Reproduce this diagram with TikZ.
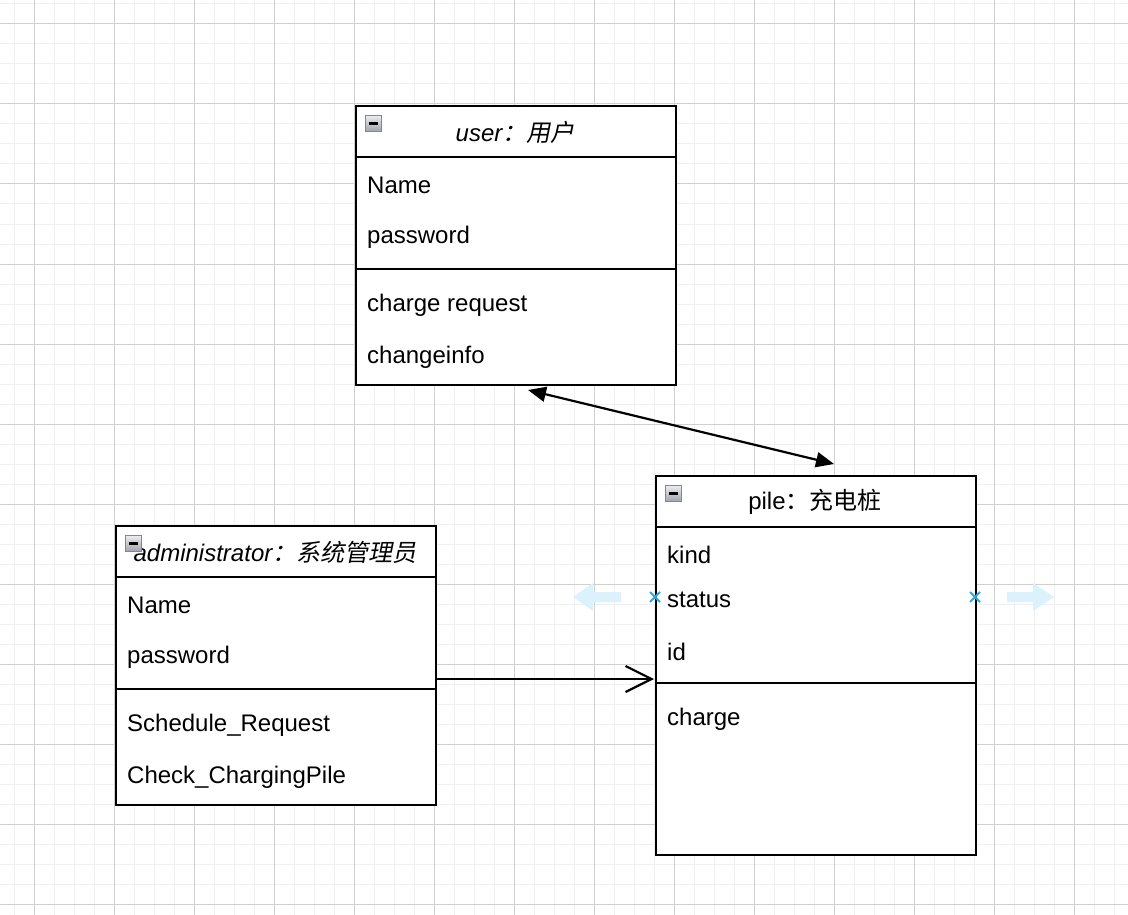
\documentclass[tikz,border=0pt]{standalone}
\usepackage{fontspec}
\setmainfont{Liberation Sans}
\newfontfamily\cjk{Noto Sans CJK SC}
\newfontfamily\cjkit[FakeSlant=0.2]{Noto Sans CJK SC}
\usetikzlibrary{arrows.meta,calc}
\definecolor{minorgrid}{RGB}{240,240,240}
\definecolor{majorgrid}{RGB}{208,208,208}
\definecolor{markblue}{RGB}{41,171,226}
\definecolor{hintblue}{RGB}{219,241,252}
\begin{document}
\begin{tikzpicture}[x=1pt,y=-1pt,
  every node/.style={font=\fontsize{24}{29}\selectfont},
  umlbox/.style={draw, line width=2pt, fill=white, anchor=north west, minimum width=320pt, inner sep=0pt},
  sepline/.style={line width=2pt},
  rowtext/.style={anchor=west, inner sep=0pt},
  headtext/.style={anchor=center, inner sep=0pt},
  icon/.style={draw={rgb,255:red,130;green,135;blue,145}, line width=1pt, minimum size=16pt, inner sep=0pt,
    top color={rgb,255:red,235;green,236;blue,238}, bottom color={rgb,255:red,160;green,163;blue,170},
    path picture={\draw[line width=2.2pt,black] ($(path picture bounding box.west)+(3.5,0)$) -- ($(path picture bounding box.east)+(-3.5,0)$);}},
  assoc/.style={line width=2.2pt},
  xmark/.style={draw=markblue, line width=2pt}
]
\useasboundingbox (0,0) rectangle (1128,915);
\fill[white] (0,0) rectangle (1128,915);
% grid
\foreach \x in {14,34,...,1124} \draw[minorgrid, line width=1pt] (\x,0) -- (\x,915);
\foreach \y in {4,24,...,914} \draw[minorgrid, line width=1pt] (0,\y) -- (1128,\y);
\foreach \x in {34,114,...,1114} \draw[majorgrid, line width=1pt] (\x,0) -- (\x,915);
\foreach \y in {24,104,...,904} \draw[majorgrid, line width=1pt] (0,\y) -- (1128,\y);

% user class
\node[umlbox, minimum height=279pt] (user) at (355,105) {};
\draw[sepline] ($(user.north west)+(0,52)$) -- ($(user.north east)+(0,52)$);
\draw[sepline] ($(user.north west)+(0,164)$) -- ($(user.north east)+(0,164)$);
\node[icon] (usericon) at (373,123.5) {};
\node[headtext] (usertitle) at (515,132) {\itshape user\cjkit ：用户};
\node[rowtext] (u1) at (367,185) {Name};
\node[rowtext] (u2) at (367,237.5) {password};
\node[rowtext] (u3) at (367,305.5) {charge request};
\node[rowtext] (u4) at (367,357.5) {changeinfo};

% administrator class
\node[umlbox, minimum height=279pt] (admin) at (115,525) {};
\draw[sepline] ($(admin.north west)+(0,52)$) -- ($(admin.north east)+(0,52)$);
\draw[sepline] ($(admin.north west)+(0,164)$) -- ($(admin.north east)+(0,164)$);
\node[headtext] (admintitle) at (275,552) {\itshape administrator\cjkit ：系统管理员};
\node[icon] (adminicon) at (133,543.5) {};
\node[rowtext] (a1) at (127,605) {Name};
\node[rowtext] (a2) at (127,657.5) {password};
\node[rowtext] (a3) at (127,725.5) {Schedule\_Request};
\node[rowtext] (a4) at (127,777.5) {Check\_ChargingPile};

% pile class
\node[umlbox, minimum height=379pt] (pile) at (655,475) {};
\draw[sepline] ($(pile.north west)+(0,52)$) -- ($(pile.north east)+(0,52)$);
\draw[sepline] ($(pile.north west)+(0,208)$) -- ($(pile.north east)+(0,208)$);
\node[icon] (pileicon) at (673,493.5) {};
\node[headtext] (piletitle) at (815,502) {pile\cjk ：充电桩};
\node[rowtext] (p1) at (667,555) {kind};
\node[rowtext] (p2) at (667,599.5) {status};
\node[rowtext] (p3) at (667,651.5) {id};
\node[rowtext] (p4) at (667,719.5) {charge};

% connectors
\coordinate (ua) at ($(user.south west)+(173,4)$);
\coordinate (pa) at ($(pile.north west)+(179,-11)$);
\draw[assoc, {Triangle[length=18pt,width=15pt]}-{Triangle[length=18pt,width=15pt]}] (ua) -- (pa);
\coordinate (as) at ($(admin.north east)+(-2,154)$);
\coordinate (pe) at ($(pile.north west)+(-1,204)$);
\draw[assoc, -{Straight Barb[length=26pt,width=26pt,line width=2.2pt]}] (as) -- (pe);

% hover hints
\fill[hintblue] (621,592) -- (593,592) -- (593,583) -- (573,597) -- (593,611) -- (593,602) -- (621,602) -- cycle;
\fill[hintblue] (1007,592) -- (1033,592) -- (1033,583) -- (1054,597) -- (1033,611) -- (1033,602) -- (1007,602) -- cycle;
\draw[xmark] (650,592) -- (660,602) (650,602) -- (660,592);
\draw[xmark] (970,592) -- (980,602) (970,602) -- (980,592);
\end{tikzpicture}
\end{document}
